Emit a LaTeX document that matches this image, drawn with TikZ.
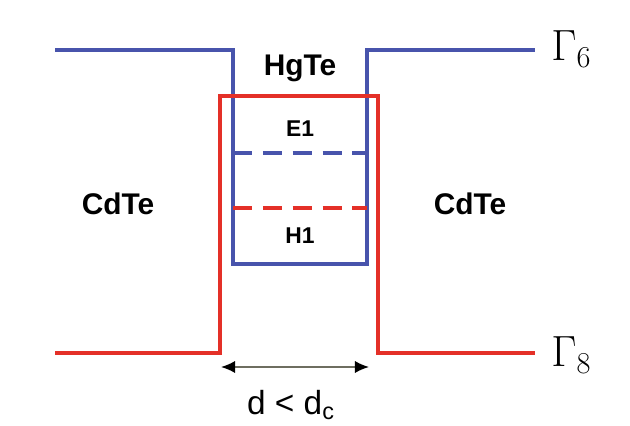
\documentclass[tikz,border=0pt]{standalone}
\usepackage{fontspec}
\setmainfont{Liberation Sans}
\usepackage{tikz}
\usetikzlibrary{arrows.meta,positioning,calc}
\definecolor{bandblue}{RGB}{72,84,172}
\definecolor{bandred}{RGB}{228,48,40}
\definecolor{arrgray}{RGB}{110,110,96}
\tikzset{
  cband/.style={draw=bandblue,line width=1.8pt},
  vband/.style={draw=bandred,line width=1.8pt},
  level/.style={line width=1.8pt,dash pattern=on 11pt off 6pt},
  matlabel/.style={font=\fontsize{17}{17}\bfseries\selectfont},
  sublabel/.style={font=\fontsize{13}{13}\bfseries\selectfont},
  gamlabel/.style={anchor=west,inner sep=0pt,font=\fontsize{25}{25}\selectfont},
  widtharr/.style={{Latex[length=8pt,width=7pt,black]}-{Latex[length=8pt,width=7pt,black]},line width=1.1pt,arrgray}
}

\begin{document}
\begin{tikzpicture}[x=0.02cm,y=-0.02cm]
  \useasboundingbox (0,0) rectangle (630,426);
  % conduction band edge (Gamma6)
  \draw[cband] (55,50) -- (233,50) -- (233,264) -- (367,264) -- (367,50) -- (535,50);
  % valence band edge (Gamma8)
  \draw[vband] (55,353) -- (220,353) -- (220,96) -- (378,96) -- (378,353) -- (535,353);
  % subbands
  \draw[level,bandblue] (233,153) -- (367,153);
  \draw[level,bandred] (233,208) -- (367,208);
  \node[matlabel] (hgte) at (300,68) {HgTe};
  \node[matlabel] (cdteL) at (118,204) {CdTe};
  \node[matlabel] (cdteR) at (470,204) {CdTe};
  \node[sublabel] (e1) at (300,129) {E1};
  \node[sublabel] (h1) at (300,236) {H1};
  \node[gamlabel] (g6) at (551,49) {$\Gamma_6$};
  \node[gamlabel] (g8) at (551,355) {$\Gamma_8$};
  % well width
  \coordinate (wl) at (221,367);
  \coordinate (wr) at (369,367);
  \draw[widtharr] (wl) -- (wr);
  \node[font=\fontsize{19}{19}\selectfont] (dlab) at (291,405) {d < d\textsubscript{c}};
\end{tikzpicture}
\end{document}
